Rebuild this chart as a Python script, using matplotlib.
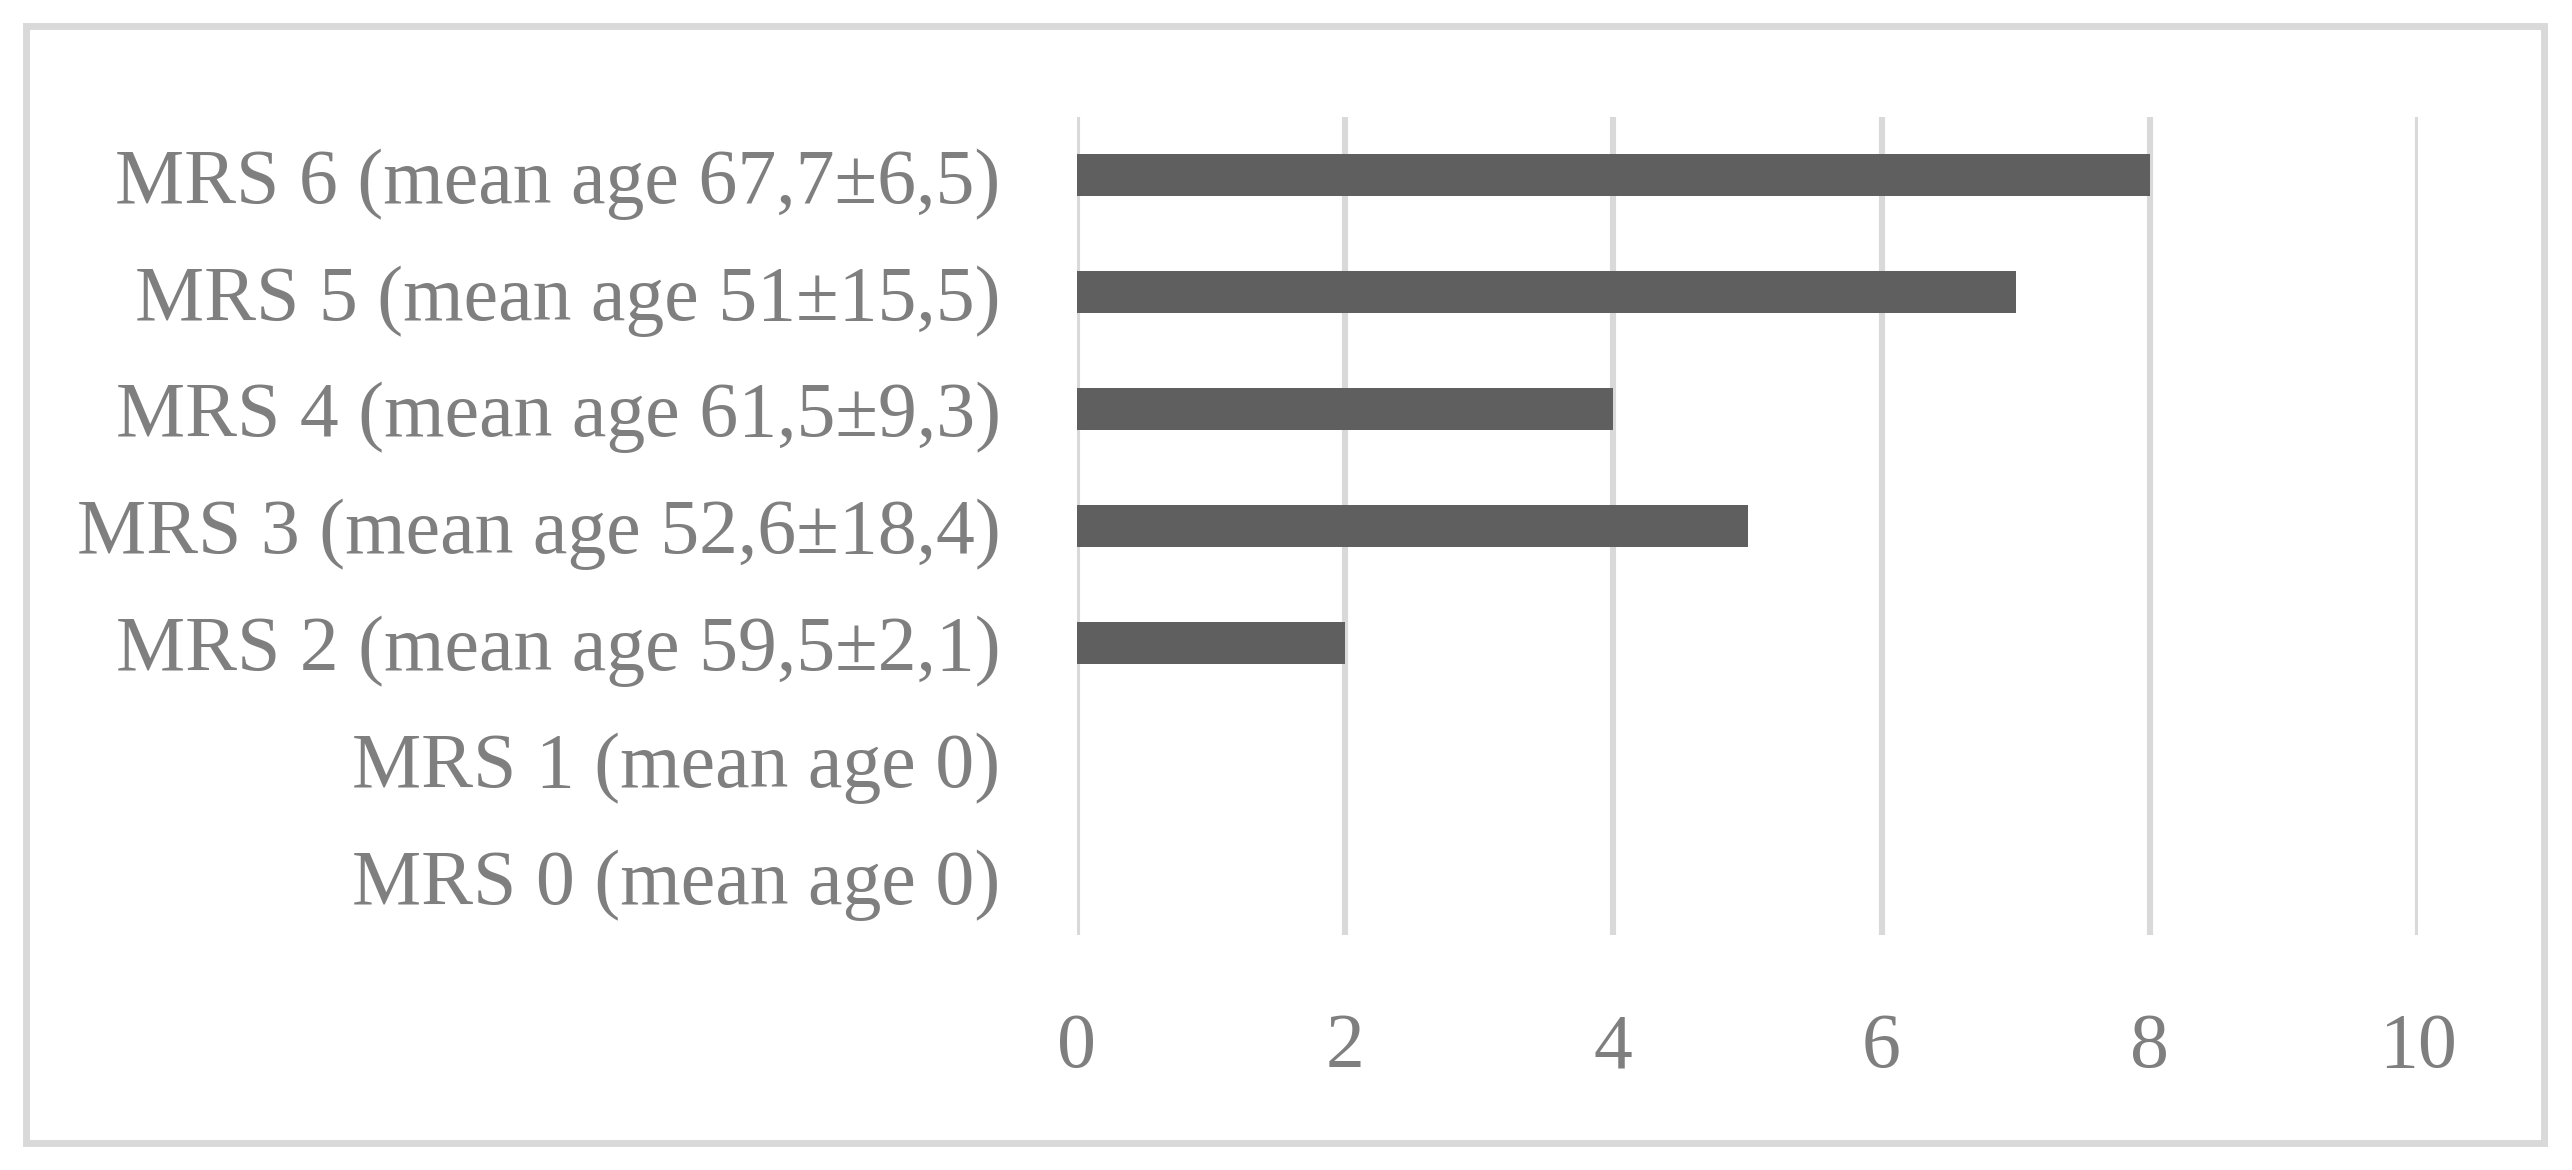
import matplotlib
matplotlib.use("Agg")
import matplotlib.pyplot as plt
from matplotlib.patches import Rectangle

categories = ["MRS 0 (mean age 0)", "MRS 1 (mean age 0)", "MRS 2 (mean age 59,5±2,1)",
              "MRS 3 (mean age 52,6±18,4)", "MRS 4 (mean age 61,5±9,3)",
              "MRS 5 (mean age 51±15,5)", "MRS 6 (mean age 67,7±6,5)"]
values = [0, 0, 2, 5, 4, 7, 8]
xticks = [0, 2, 4, 6, 8, 10]

W, H = 2572, 1170
DPI = 100
fig = plt.figure(figsize=(W / DPI, H / DPI), dpi=DPI)
fig.patch.set_facecolor("white")

FONT = "Liberation Serif"
TXT = "#7f7f7f"

ax = fig.add_axes([1077 / W, 1 - 935 / H, (2418 - 1077) / W, (935 - 117) / H])
ypos = list(range(len(categories)))
ax.barh(ypos, values, height=0.36, color="#5f5f5f", zorder=3)
ax.set_xlim(0, 10)
ax.set_ylim(-0.5, len(categories) - 0.5)
ax.set_xticks(xticks)
ax.set_xticklabels([str(t) for t in xticks])
ax.set_yticks(ypos)
ax.set_yticklabels(categories)
for lbl in ax.get_xticklabels() + ax.get_yticklabels():
    lbl.set_fontfamily(FONT)
    lbl.set_fontsize(56)
    lbl.set_color(TXT)
ax.tick_params(axis="x", length=0, pad=56)
ax.tick_params(axis="y", length=0, pad=55)
ax.grid(axis="x", color="#d9d9d9", linewidth=4.4, zorder=0)
for s in ax.spines.values():
    s.set_visible(False)

fig.patches.append(Rectangle((26 / W, 1 - 1143 / H), (2544 - 26) / W, (1143 - 26) / H,
                             transform=fig.transFigure, fill=False,
                             edgecolor="#d9d9d9", linewidth=5))

fig.savefig("out.png", dpi=DPI)
